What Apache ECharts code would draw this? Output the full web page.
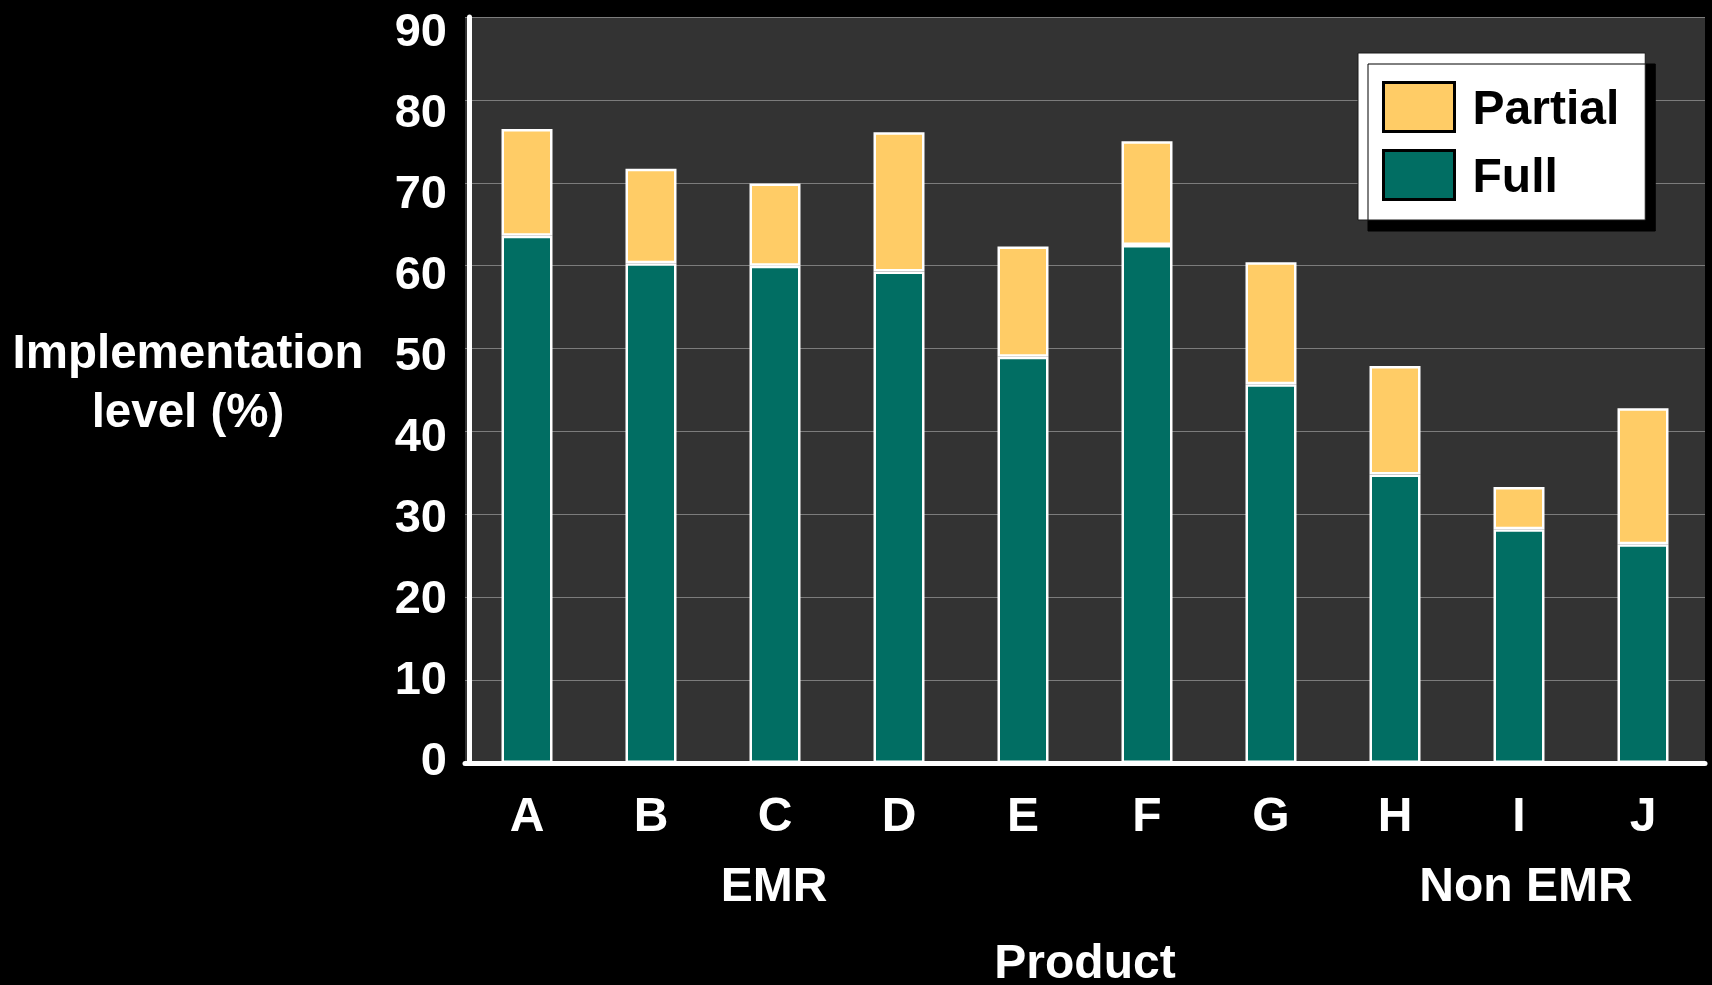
<!DOCTYPE html>
<html>
<head>
<meta charset="utf-8">
<title>Implementation level by product</title>
<script src="https://cdn.jsdelivr.net/npm/echarts@6/dist/echarts.min.js"></script>
<style>
  html, body { margin: 0; padding: 0; background: #000; }
  #chart { width: 1712px; height: 985px; }
</style>
</head>
<body>
<div id="chart"></div>
<script>
// Products on the x axis
const categories = ['A', 'B', 'C', 'D', 'E', 'F', 'G', 'H', 'I', 'J'];
// Share of items fully implemented (%)
const fullValues = [63.6, 60.3, 60.0, 59.3, 49.0, 62.5, 45.7, 34.8, 28.2, 26.4];
// Additional share partially implemented (%), stacked on top of "Full"
const partialValues = [12.9, 11.4, 9.9, 16.8, 13.3, 12.5, 14.7, 13.1, 5.1, 16.4];
// Value-axis tick labels
const yTicks = [0, 10, 20, 30, 40, 50, 60, 70, 80, 90];
// Product groupings shown under the category labels
const groupLabels = ['EMR', 'Non EMR'];

const FONT = "'Liberation Sans', Arial, sans-serif";
const TEAL = '#016e63';
const GOLD = '#ffcc66';

const chart = echarts.init(document.getElementById('chart'), null, { renderer: 'canvas' });

const barStyle = (color) => ({
  color: color,
  borderColor: '#ffffff',
  borderWidth: 2.5
});

chart.setOption({
  backgroundColor: '#000000',
  animation: false,
  textStyle: { fontFamily: FONT },
  grid: [
    {
      left: 465, right: 7, top: 17, bottom: 222,
      outerBoundsMode: 'none',
      show: true, backgroundColor: '#333333', borderWidth: 0
    },
    {
      // companion grid that carries the value labels
      left: 465, right: 7, top: 33, bottom: 223,
      outerBoundsMode: 'none',
      show: false
    }
  ],
  legend: {
    data: ['Partial', 'Full'],
    orient: 'vertical',
    left: 1358,
    top: 53,
    padding: [26, 26, 17, 24],
    itemWidth: 71,
    itemHeight: 49,
    itemGap: 12,
    backgroundColor: '#ffffff',
    borderColor: '#1a1a1a',
    borderWidth: 1,
    borderRadius: 0,
    shadowColor: '#000000',
    shadowBlur: 0,
    shadowOffsetX: 10,
    shadowOffsetY: 11,
    icon: 'rect',
    itemStyle: { borderColor: '#000000', borderWidth: 3 },
    selectedMode: false,
    formatter: '{t|{name}}',
    textStyle: {
      color: '#000000',
      fontFamily: FONT,
      fontWeight: 'bold',
      fontSize: 48,
      rich: {
        t: {
          color: '#000000',
          fontFamily: FONT,
          fontWeight: 'bold',
          fontSize: 48,
          lineHeight: 41,
          padding: [8, 0, 0, 13]
        }
      }
    }
  },
  xAxis: [
    {
      type: 'category',
      gridIndex: 0,
      data: categories,
      axisLine: { show: true, lineStyle: { color: '#ffffff', width: 5 } },
      axisTick: { show: false },
      axisLabel: {
        color: '#ffffff', fontFamily: FONT, fontWeight: 'bold', fontSize: 48, margin: 31
      },
      name: 'Product',
      nameLocation: 'middle',
      nameGap: 178,
      nameTextStyle: { color: '#ffffff', fontFamily: FONT, fontWeight: 'bold', fontSize: 48 }
    },
    { type: 'value', gridIndex: 1, min: 0, max: 1, show: false }
  ],
  yAxis: [
    {
      type: 'value',
      gridIndex: 0,
      min: 0, max: 90, interval: 10,
      offset: -4,
      axisLine: { show: true, lineStyle: { color: '#ffffff', width: 5 } },
      axisTick: { show: false },
      axisLabel: { show: false },
      splitLine: { show: true, lineStyle: { color: '#7c7c7c', width: 1 } }
    },
    {
      type: 'value',
      gridIndex: 1,
      min: yTicks[0], max: yTicks[yTicks.length - 1], interval: 10,
      axisLine: { show: false },
      axisTick: { show: false },
      splitLine: { show: false },
      axisLabel: {
        color: '#ffffff', fontFamily: FONT, fontWeight: 'bold', fontSize: 47, margin: 18
      }
    }
  ],
  series: [
    {
      name: 'Full', type: 'bar', stack: 'level',
      xAxisIndex: 0, yAxisIndex: 0,
      barWidth: 51,
      itemStyle: barStyle(TEAL),
      data: fullValues
    },
    {
      name: 'Partial', type: 'bar', stack: 'level',
      xAxisIndex: 0, yAxisIndex: 0,
      barWidth: 51,
      itemStyle: barStyle(GOLD),
      data: partialValues
    }
  ],
  graphic: [
    {
      type: 'text', x: 188, y: 384,
      style: {
        text: 'Implementation\nlevel (%)',
        fill: '#ffffff', font: 'bold 47.5px ' + FONT,
        align: 'center', verticalAlign: 'middle', lineHeight: 59
      }
    },
    {
      type: 'text', x: 774, y: 888,
      style: {
        text: groupLabels[0],
        fill: '#ffffff', font: 'bold 48px ' + FONT,
        align: 'center', verticalAlign: 'middle'
      }
    },
    {
      type: 'text', x: 1526, y: 888,
      style: {
        text: groupLabels[1],
        fill: '#ffffff', font: 'bold 48px ' + FONT,
        align: 'center', verticalAlign: 'middle'
      }
    }
  ]
});
</script>
</body>
</html>
